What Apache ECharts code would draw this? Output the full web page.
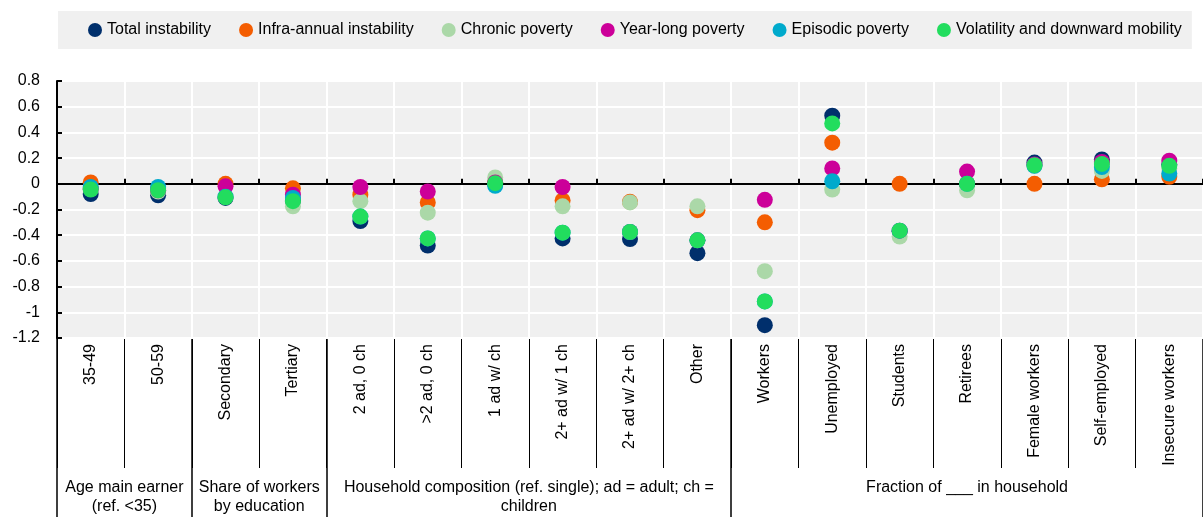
<!DOCTYPE html>
<html>
<head>
<meta charset="utf-8">
<script src="https://cdn.jsdelivr.net/npm/echarts@6/dist/echarts.min.js"></script>
<style>
  html, body { margin: 0; padding: 0; background: #ffffff; }
  #chart { width: 1203px; height: 517px; }
</style>
</head>
<body>
<div id="chart"></div>
<script>
// Household characteristics on the category axis
const categories = [
  '35-49', '50-59', 'Secondary', 'Tertiary',
  '2 ad, 0 ch', '>2 ad, 0 ch', '1 ad w/ ch', '2+ ad w/ 1 ch', '2+ ad w/ 2+ ch', 'Other',
  'Workers', 'Unemployed', 'Students', 'Retirees', 'Female workers', 'Self-employed', 'Insecure workers'
];

// Group captions under the category labels, and how many categories each spans
const groupLabels = [
  'Age main earner\n(ref. <35)',
  'Share of workers\nby education',
  'Household composition (ref. single); ad = adult; ch =\nchildren',
  'Fraction of ___ in household'
];
const groupSizes = [2, 2, 6, 7];

// Coefficients per instability type
const seriesNames = [
  'Total instability', 'Infra-annual instability', 'Chronic poverty',
  'Year-long poverty', 'Episodic poverty', 'Volatility and downward mobility'
];
const totalInstability = [-0.08, -0.09, -0.11, -0.13, -0.29, -0.48, 0.0, -0.425, -0.43, -0.54, -1.10, 0.53, -0.37, 0.0, 0.165, 0.19, 0.15];
const infraAnnual      = [0.01, -0.04, 0.0, -0.035, -0.085, -0.145, 0.01, -0.13, -0.14, -0.205, -0.30, 0.32, 0.0, 0.0, 0.0, 0.035, 0.055];
const chronicPoverty   = [-0.04, -0.06, -0.10, -0.175, -0.135, -0.225, 0.05, -0.175, -0.145, -0.175, -0.68, -0.045, -0.41, -0.05, 0.14, 0.10, 0.12];
const yearLongPoverty  = [-0.04, -0.05, -0.02, -0.085, -0.025, -0.06, 0.01, -0.025, -0.375, -0.44, -0.125, 0.12, -0.365, 0.095, 0.15, 0.17, 0.18];
const episodicPoverty  = [-0.025, -0.025, -0.10, -0.11, -0.255, -0.425, -0.015, -0.38, -0.375, -0.44, -0.915, 0.02, -0.365, 0.0, 0.14, 0.13, 0.08];
const volatilityDown   = [-0.045, -0.05, -0.105, -0.135, -0.255, -0.425, 0.005, -0.38, -0.375, -0.44, -0.915, 0.47, -0.365, 0.0, 0.145, 0.155, 0.14];

// Value axis range
const yMin = -1.2;
const yMax = 0.8;
const yStep = 0.2;

const seriesValues = [totalInstability, infraAnnual, chronicPoverty, yearLongPoverty, episodicPoverty, volatilityDown];
const seriesColors = ['#002F6C', '#F45D01', '#ABD8A8', '#CC0099', '#00AACC', '#22DD5E'];

const FONT = '"Liberation Sans", Arial, sans-serif';

// Index of the first category in each group
const groupStarts = [];
groupSizes.reduce((acc, n) => { groupStarts.push(acc); return acc + n; }, 0);

const chart = echarts.init(document.getElementById('chart'), null, { renderer: 'canvas' });

const option = {
  animation: false,
  backgroundColor: '#ffffff',
  textStyle: { fontFamily: FONT },
  legend: {
    left: 58,
    top: 11,
    padding: [11, 10, 11, 30],
    backgroundColor: '#f0f0f0',
    itemGap: 28,
    itemWidth: 14,
    itemHeight: 14,
    icon: 'circle',
    textStyle: { fontFamily: FONT, fontSize: 16, color: '#000000' },
    data: seriesNames
  },
  grid: {
    left: 57,
    right: -7,
    top: 81,
    bottom: 179,
    show: true,
    backgroundColor: '#f0f0f0',
    borderWidth: 0
  },
  xAxis: [
    {
      // axis line through zero with small upward ticks
      type: 'category',
      data: categories,
      position: 'top',
      boundaryGap: true,
      axisLine: { onZero: true, lineStyle: { color: '#000000', width: 2 } },
      axisTick: { show: true, inside: false, length: 5, interval: 0, lineStyle: { color: '#000000', width: 2 } },
      axisLabel: { show: false },
      splitLine: { show: false },
      z: 3
    },
    {
      // rotated category labels, separators below the plot, vertical gridlines
      type: 'category',
      data: categories,
      position: 'bottom',
      boundaryGap: true,
      axisLine: { show: false, onZero: false },
      axisTick: { show: true, length: 130, interval: 0, lineStyle: { color: '#000000', width: 1 } },
      axisLabel: {
        show: true, interval: 0, rotate: 90, margin: 6,
        fontFamily: FONT, fontSize: 16, color: '#000000'
      },
      splitLine: { show: true, interval: 0, lineStyle: { color: '#ffffff', width: 2 } },
      z: 1
    },
    {
      // full-height separators between category groups
      type: 'category',
      data: categories,
      position: 'bottom',
      boundaryGap: true,
      axisLine: { show: false, onZero: false },
      axisTick: {
        show: true, length: 179,
        interval: (idx) => groupStarts.indexOf(idx) >= 0,
        lineStyle: { color: '#000000', width: 1.5 }
      },
      axisLabel: { show: false },
      splitLine: { show: false },
      z: 1
    }
  ],
  yAxis: {
    type: 'value',
    min: yMin,
    max: yMax,
    interval: yStep,
    axisLine: { show: true, onZero: false, lineStyle: { color: '#000000', width: 2 } },
    axisTick: { show: true, inside: true, length: 5, lineStyle: { color: '#000000', width: 2 } },
    axisLabel: {
      margin: 17, fontFamily: FONT, fontSize: 16, color: '#000000',
      formatter: (v) => String(Math.round(v * 10) / 10)
    },
    splitLine: { show: true, lineStyle: { color: '#ffffff', width: 2 } },
    z: 2
  },
  series: seriesNames.map((name, i) => ({
    name: name,
    type: 'scatter',
    xAxisIndex: 0,
    symbol: 'circle',
    symbolSize: 16,
    itemStyle: { color: seriesColors[i], opacity: 1 },
    emphasis: { disabled: true },
    data: seriesValues[i],
    z: 4
  }))
};

chart.setOption(option);

// Group captions centred under each group's span of categories
function placeGroupLabels() {
  const c0 = chart.convertToPixel({ xAxisIndex: 1 }, categories[0]);
  const c1 = chart.convertToPixel({ xAxisIndex: 1 }, categories[1]);
  const band = c1 - c0;
  const labelTop = chart.convertToPixel({ yAxisIndex: 0 }, yMin) + 140;
  const elements = groupLabels.map((text, g) => {
    const first = groupStarts[g];
    const last = first + groupSizes[g] - 1;
    const left = chart.convertToPixel({ xAxisIndex: 1 }, categories[first]) - band / 2;
    const right = chart.convertToPixel({ xAxisIndex: 1 }, categories[last]) + band / 2;
    return {
      type: 'text',
      x: (left + right) / 2,
      y: labelTop,
      style: {
        text: text,
        fill: '#000000',
        font: '16px ' + FONT,
        align: 'center',
        verticalAlign: 'top',
        lineHeight: 19
      }
    };
  });
  chart.setOption({ graphic: elements });
}
placeGroupLabels();
</script>
</body>
</html>
